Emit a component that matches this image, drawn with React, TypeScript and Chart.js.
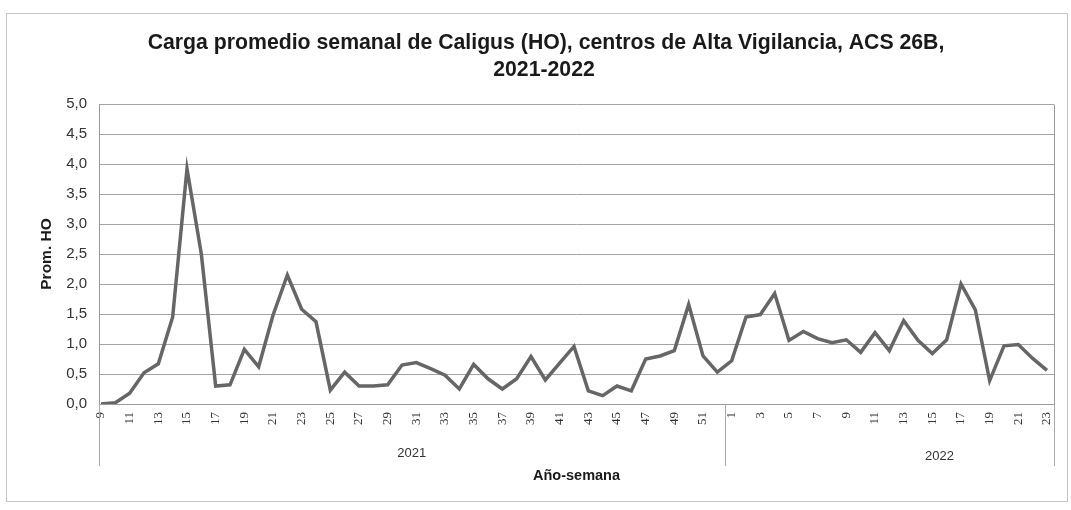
import React, { useEffect, useRef } from "react";
import { Chart, registerables } from "chart.js";

Chart.register(...registerables);

const TITLE_LINES = [
  "Carga promedio semanal de Caligus (HO), centros de Alta Vigilancia, ACS 26B,",
  "2021-2022",
];
const Y_TITLE = "Prom. HO";
const X_TITLE = "Año-semana";
const YEARS = ["2021", "2022"];

const WEEKS_2021 = [
  9, 10, 11, 12, 13, 14, 15, 16, 17, 18, 19, 20, 21, 22, 23, 24, 25, 26, 27, 28,
  29, 30, 31, 32, 33, 34, 35, 36, 37, 38, 39, 40, 41, 42, 43, 44, 45, 46, 47, 48,
  49, 50, 51, 52,
];
const WEEKS_2022 = [
  1, 2, 3, 4, 5, 6, 7, 8, 9, 10, 11, 12, 13, 14, 15, 16, 17, 18, 19, 20, 21, 22, 23,
];

const VALUES_2021 = [
  0.0, 0.02, 0.18, 0.52, 0.67, 1.45, 3.92, 2.5, 0.3, 0.32,
  0.91, 0.62, 1.48, 2.15, 1.58, 1.37, 0.23, 0.53, 0.3, 0.3,
  0.32, 0.65, 0.69, 0.59, 0.48, 0.25, 0.66, 0.42, 0.25, 0.42,
  0.79, 0.4, 0.68, 0.96, 0.22, 0.14, 0.3, 0.22, 0.75, 0.8,
  0.89, 1.66, 0.8, 0.53,
];
const VALUES_2022 = [
  0.72, 1.45, 1.49, 1.84, 1.06, 1.21, 1.09, 1.02, 1.07, 0.86,
  1.19, 0.89, 1.39, 1.06, 0.84, 1.07, 2.0, 1.57, 0.39, 0.97,
  0.99, 0.76, 0.56,
];

const Y_MIN = 0;
const Y_MAX = 5;
const Y_STEP = 0.5;

const W = 1071;
const H = 510;
// plot frame (Excel plot area) and the inset where the series runs
const FRAME_LEFT = 99;
const FRAME_RIGHT = 1054;
const INSET_LEFT = 2;
const INSET_RIGHT = 7;

export default function App() {
  const ref = useRef<HTMLCanvasElement | null>(null);

  useEffect(() => {
    const canvas = ref.current;
    if (!canvas) return;
    const labels = [...WEEKS_2021, ...WEEKS_2022].map(String);
    const data = [...VALUES_2021, ...VALUES_2022];
    const n2021 = WEEKS_2021.length;

    const deco = {
      id: "deco",
      beforeDraw(chart: any) {
        const ctx = chart.ctx;
        ctx.save();
        ctx.fillStyle = "#ffffff";
        ctx.fillRect(0, 0, W, H);
        ctx.strokeStyle = "#c4c4c4";
        ctx.lineWidth = 1;
        ctx.strokeRect(6.5, 13.5, 1061, 488);
        ctx.restore();
      },
      beforeDatasetsDraw(chart: any) {
        const ctx = chart.ctx;
        const a = chart.chartArea;
        const ys = chart.scales.y;
        ctx.save();
        ctx.lineWidth = 1;
        ctx.strokeStyle = "#a4a4a4";
        ctx.beginPath();
        for (let v = Y_MIN + Y_STEP; v <= Y_MAX + 1e-9; v += Y_STEP) {
          const y = Math.round(ys.getPixelForValue(v)) + 0.5;
          ctx.moveTo(FRAME_LEFT, y);
          ctx.lineTo(FRAME_RIGHT, y);
        }
        ctx.stroke();
        ctx.strokeStyle = "#9a9a9a";
        ctx.beginPath();
        const yb = Math.round(ys.getPixelForValue(Y_MIN)) + 0.5;
        const yt = Math.round(ys.getPixelForValue(Y_MAX)) + 0.5;
        ctx.moveTo(FRAME_LEFT + 0.5, yt);
        ctx.lineTo(FRAME_LEFT + 0.5, yb);
        ctx.lineTo(FRAME_RIGHT + 0.5, yb);
        ctx.lineTo(FRAME_RIGHT + 0.5, yt);
        ctx.stroke();
        ctx.restore();
      },
      afterDraw(chart: any) {
        const ctx = chart.ctx;
        const a = chart.chartArea;
        const xs = chart.scales.x;
        ctx.save();
        // title
        ctx.fillStyle = "#1a1a1a";
        ctx.textAlign = "center";
        ctx.textBaseline = "middle";
        ctx.font = "bold 20px 'Liberation Sans', Arial, sans-serif";
        const w0 = ctx.measureText(TITLE_LINES[0]).width;
        const ts = (20 * 797) / w0;
        ctx.font = `bold ${ts.toFixed(2)}px 'Liberation Sans', Arial, sans-serif`;
        ctx.fillText(TITLE_LINES[0], 546, 43);
        ctx.fillText(TITLE_LINES[1], 544, 70);

        // y title
        ctx.font = "bold 15.5px 'Liberation Sans', Arial, sans-serif";
        ctx.save();
        ctx.translate(47, (a.top + a.bottom) / 2);
        ctx.rotate(-Math.PI / 2);
        ctx.fillText(Y_TITLE, 0, 0);
        ctx.restore();

        // x title
        ctx.font = "bold 14.5px 'Liberation Sans', Arial, sans-serif";
        ctx.fillText(X_TITLE, (FRAME_LEFT + FRAME_RIGHT) / 2, 476);

        // year group separators
        const mid = (xs.getPixelForValue(n2021 - 1) + xs.getPixelForValue(n2021)) / 2;
        ctx.strokeStyle = "#a8a8a8";
        ctx.lineWidth = 1;
        ctx.beginPath();
        [FRAME_LEFT, mid, FRAME_RIGHT].forEach((x: number) => {
          const px = Math.round(x) + 0.5;
          ctx.moveTo(px, a.bottom);
          ctx.lineTo(px, 466);
        });
        ctx.stroke();

        // year labels
        ctx.fillStyle = "#333333";
        ctx.font = "13px 'Liberation Sans', Arial, sans-serif";
        ctx.fillText(YEARS[0], (FRAME_LEFT + mid) / 2, 453);
        ctx.fillText(YEARS[1], xs.getPixelForValue(n2021 + 14.5), 456);
        ctx.restore();
      },
    };

    const chart = new Chart(canvas, {
      type: "line",
      data: {
        labels,
        datasets: [
          {
            data,
            borderColor: "#666666",
            borderWidth: 3.5,
            pointRadius: 0,
            tension: 0,
            fill: false,
          },
        ],
      },
      options: {
        animation: false,
        responsive: false,
        devicePixelRatio: 1,
        layout: {
          padding: { top: 104, left: 0, right: W - FRAME_RIGHT + INSET_RIGHT, bottom: 0 },
        },
        plugins: {
          legend: { display: false },
          title: { display: false },
          tooltip: { enabled: false },
        },
        scales: {
          x: {
            type: "category",
            offset: false,
            grid: { display: false, drawTicks: false },
            border: { display: false },
            ticks: {
              autoSkip: false,
              minRotation: 90,
              maxRotation: 90,
              padding: 8,
              color: "#333333",
              font: { family: "'Liberation Serif', serif", size: 13 },
              callback: (_v: any, i: number) => (i % 2 === 0 ? labels[i] : ""),
            },
            afterFit: (s: any) => {
              s.height = 106;
              s.paddingLeft = 0;
              s.paddingRight = 0;
            },
          },
          y: {
            min: Y_MIN,
            max: Y_MAX,
            grid: { display: false, drawTicks: false },
            border: { display: false },
            ticks: {
              stepSize: Y_STEP,
              padding: 12 + INSET_LEFT,
              color: "#333333",
              font: { family: "'Liberation Sans', Arial, sans-serif", size: 15 },
              callback: (v: any) => Number(v).toFixed(1).replace(".", ","),
            },
            afterFit: (s: any) => {
              s.width = FRAME_LEFT + INSET_LEFT;
              s.paddingTop = 0;
              s.paddingBottom = 0;
            },
          },
        },
      },
      plugins: [deco],
    });

    return () => chart.destroy();
  }, []);

  return (
    <div style={{ position: "fixed", left: 0, top: 0, width: W, height: H, background: "#fff" }}>
      <canvas ref={ref} width={W} height={H} style={{ display: "block", width: W, height: H }} />
    </div>
  );
}
